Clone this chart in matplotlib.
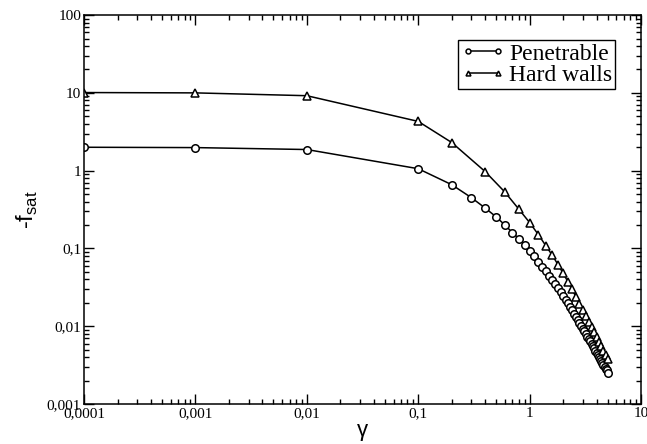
import matplotlib
matplotlib.use("Agg")
import matplotlib.pyplot as plt
from matplotlib.ticker import FixedLocator, FixedFormatter, LogLocator, NullFormatter

# Penetrable (circles)
x_pen = [0.0001, 0.001, 0.01,
         0.1, 0.2, 0.3, 0.4, 0.5, 0.6, 0.7, 0.8, 0.9, 1.0,
         1.1, 1.2, 1.3, 1.4, 1.5, 1.6, 1.7, 1.8, 1.9, 2.0,
         2.1, 2.2, 2.3, 2.4, 2.5, 2.6, 2.7, 2.8, 2.9, 3.0,
         3.1, 3.2, 3.3, 3.4, 3.5, 3.6, 3.7, 3.8, 3.9, 4.0,
         4.1, 4.2, 4.3, 4.4, 4.5, 4.6, 4.7, 4.8, 4.9, 5.0]
f_pen = [2.0, 1.98, 1.87,
         1.06, 0.66, 0.45, 0.33, 0.255, 0.20, 0.16, 0.134, 0.11, 0.093,
         0.0794, 0.0676, 0.0582, 0.0507, 0.0447, 0.0394, 0.0347, 0.0309, 0.0275, 0.0245,
         0.0219, 0.0197, 0.0178, 0.0160, 0.0145, 0.0132, 0.0120, 0.0110, 0.0101, 0.00933,
         0.00861, 0.00794, 0.00736, 0.00684, 0.00638, 0.00596, 0.00556, 0.00519, 0.00486, 0.00457,
         0.00429, 0.00403, 0.00380, 0.00359, 0.00339, 0.00320, 0.00302, 0.00285, 0.00270, 0.00254]

# Hard walls (triangles)
x_hard = [0.0001, 0.001, 0.01, 0.1,
          0.2, 0.4, 0.6, 0.8, 1.0, 1.2, 1.4, 1.6, 1.8, 2.0,
          2.2, 2.4, 2.6, 2.8, 3.0, 3.2, 3.4, 3.6, 3.8, 4.0,
          4.2, 4.4, 4.6, 4.8, 5.0]
f_hard = [10.1, 10.0, 9.2, 4.3,
          2.3, 0.97, 0.53, 0.32, 0.215, 0.150, 0.108, 0.0813, 0.0617, 0.0479,
          0.0376, 0.0299, 0.0240, 0.0195, 0.0162, 0.0136, 0.0115, 0.00984, 0.00841, 0.00724,
          0.00631, 0.00553, 0.00484, 0.00427, 0.00380]

xticks = [0.0001, 0.001, 0.01, 0.1, 1, 10]
xticklabels = ["0,0001", "0,001", "0,01", "0,1", "1", "10"]
yticks = [0.001, 0.01, 0.1, 1, 10, 100]
yticklabels = ["0,001", "0,01", "0,1", "1", "10", "100"]

plt.rcParams['mathtext.fontset'] = 'custom'
plt.rcParams['mathtext.rm'] = 'Liberation Sans'
plt.rcParams['mathtext.sf'] = 'Liberation Sans'

fig = plt.figure(figsize=(6.47, 4.44), dpi=100)
ax = fig.add_axes([0.1298, 0.090, 0.861, 0.876])

ax.plot(x_pen, f_pen, color='black', lw=1.1, marker='o', ms=5.4,
        mfc='white', mec='black', mew=1.1, label='Penetrable')
ax.plot(x_hard, f_hard, color='black', lw=1.1, marker='^', ms=5.4,
        mfc='white', mec='black', mew=1.1, label='Hard walls')

ax.set_xscale('log')
ax.set_yscale('log')
ax.set_xlim(0.0001, 10)
ax.set_ylim(0.001, 100)

ax.xaxis.set_major_locator(FixedLocator(xticks))
ax.xaxis.set_major_formatter(FixedFormatter(xticklabels))
ax.yaxis.set_major_locator(FixedLocator(yticks))
ax.yaxis.set_major_formatter(FixedFormatter(yticklabels))
ax.xaxis.set_minor_locator(LogLocator(base=10, subs=range(2, 10), numticks=20))
ax.yaxis.set_minor_locator(LogLocator(base=10, subs=range(2, 10), numticks=20))
ax.xaxis.set_minor_formatter(NullFormatter())
ax.yaxis.set_minor_formatter(NullFormatter())

ax.tick_params(which='both', direction='in', top=True, right=True, width=1.0)
ax.tick_params(which='major', length=7)
ax.tick_params(which='minor', length=3.5)
ax.tick_params(axis='x', which='major', pad=2)
ax.tick_params(axis='y', which='major', pad=2)
for lab in ax.get_xticklabels() + ax.get_yticklabels():
    lab.set_fontfamily('Liberation Serif')
    lab.set_fontsize(11)

for s in ax.spines.values():
    s.set_linewidth(1.1)

ax.set_xlabel('γ', fontfamily='Liberation Sans', fontsize=16, labelpad=0)
ax.set_ylabel(r'-f$_{\mathrm{sat}}$', fontfamily='Liberation Sans', fontsize=17, labelpad=5)

leg = ax.legend(loc='upper right', bbox_to_anchor=(0.953, 0.935), numpoints=2,
                markerscale=0.65, handlelength=1.9, handletextpad=0.15,
                borderpad=0.12, labelspacing=0.0, borderaxespad=0,
                fancybox=False, framealpha=1, edgecolor='black',
                prop={'family': 'Liberation Serif', 'size': 17})
leg.get_frame().set_linewidth(1.0)

fig.savefig('out.png', dpi=100)
